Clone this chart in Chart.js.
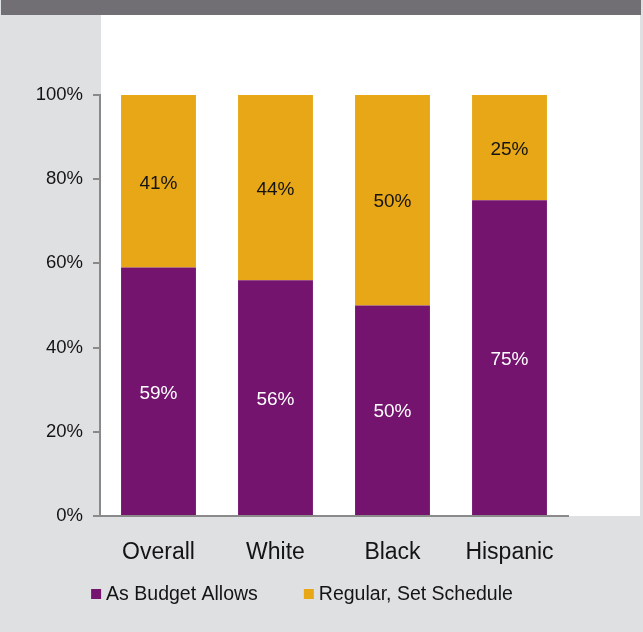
<!DOCTYPE html>
<html>
<head>
<meta charset="utf-8">
<script src="https://cdn.jsdelivr.net/npm/chart.js@4"></script>
<style>
	body { margin: 0; background: #dfe0e2; }
	#wrap { position: relative; width: 643px; height: 632px; overflow: hidden; background: #dfe0e2; }
	.topbar { position: absolute; left: 1px; top: 0; width: 640px; height: 15px; background: #716f74; }
	.panel { position: absolute; left: 101px; top: 15px; width: 539px; height: 501px; background: #ffffff; }
	#chart { position: absolute; left: 0; top: 0; }
</style>
</head>
<body>
<div id="wrap">
	<div class="topbar"></div>
	<div class="panel"></div>
	<canvas id="chart" width="643" height="632"></canvas>
</div>
<script>
const categories = ['Overall', 'White', 'Black', 'Hispanic'];
const budgetAllows = [59, 56, 50, 75];
const setSchedule = [41, 44, 50, 25];
const yTicks = [0, 20, 40, 60, 80, 100];

const FONT = "'Liberation Sans', Arial, sans-serif";
const PURPLE = '#74146f';
const GOLD = '#e7a716';
const INK = '#141414';

// writes the percentage inside every bar segment
const segmentLabels = {
	id: 'segmentLabels',
	afterDatasetsDraw(chart) {
		let ctx = chart.ctx;
		ctx.save();
		ctx.font = '19px ' + FONT;
		ctx.textAlign = 'center';
		ctx.textBaseline = 'middle';
		chart.data.datasets.forEach((ds, i) => {
			let meta = chart.getDatasetMeta(i);
			meta.data.forEach((bar, j) => {
				let mid = (bar.y + bar.base) / 2 + 2;
				ctx.fillStyle = ds.labelColor;
				ctx.fillText(ds.data[j] + '%', bar.x, mid);
			});
		});
		ctx.restore();
	}
};

// one-row legend under the axis: small square, tight gap, wide spacing between entries
const bottomLegend = {
	id: 'bottomLegend',
	afterDraw(chart, args, opts) {
		let ctx = chart.ctx;
		ctx.save();
		ctx.font = opts.fontSize + 'px ' + FONT;
		ctx.textBaseline = 'middle';
		let items = chart.data.datasets.map(ds => ({
			text: ds.label,
			color: ds.backgroundColor,
			w: opts.box + opts.boxGap + ctx.measureText(ds.label).width
		}));
		let total = items.reduce((a, it) => a + it.w, 0) + opts.itemGap * (items.length - 1);
		let x = opts.centerX - total / 2;
		items.forEach(it => {
			ctx.fillStyle = it.color;
			ctx.fillRect(x, opts.y - opts.box / 2, opts.box, opts.box);
			ctx.fillStyle = INK;
			ctx.fillText(it.text, x + opts.box + opts.boxGap, opts.y + 1);
			x += it.w + opts.itemGap;
		});
		ctx.restore();
	}
};

let ctx = document.getElementById('chart').getContext('2d');
let myChart = new Chart(ctx, {
	type: 'bar',
	data: {
		labels: categories,
		datasets: [{
			label: 'As Budget Allows',
			data: budgetAllows,
			backgroundColor: PURPLE,
			borderWidth: 0,
			labelColor: '#ffffff'
		}, {
			label: 'Regular, Set Schedule',
			data: setSchedule,
			backgroundColor: GOLD,
			borderWidth: 0,
			labelColor: INK
		}]
	},
	options: {
		responsive: false,
		animation: false,
		devicePixelRatio: 1,
		layout: {
			padding: { top: 95, left: 36, right: 75, bottom: 58 }
		},
		datasets: {
			bar: { barPercentage: 0.64, categoryPercentage: 1 }
		},
		scales: {
			x: {
				stacked: true,
				grid: { display: false, drawTicks: false },
				border: { display: true, color: '#8a8a8a', width: 2 },
				ticks: {
					padding: 23,
					color: INK,
					font: { family: FONT, size: 23 }
				},
				afterFit: function(scale) { scale.height = 58; }
			},
			y: {
				stacked: true,
				min: 0,
				max: 100,
				afterBuildTicks: function(scale) {
					scale.ticks = yTicks.map(v => ({ value: v }));
				},
				grid: {
					drawOnChartArea: false,
					drawTicks: true,
					tickLength: 7,
					color: '#8a8a8a',
					lineWidth: 2
				},
				border: { display: true, color: '#8a8a8a', width: 2 },
				ticks: {
					padding: 10,
					color: INK,
					font: { family: FONT, size: 18.5 },
					callback: function(v) { return v + '%'; }
				},
				afterFit: function(scale) { scale.width = 64; }
			}
		},
		plugins: {
			legend: { display: false },
			tooltip: { enabled: false },
			bottomLegend: {
				centerX: 302,
				y: 594,
				box: 10,
				boxGap: 5,
				itemGap: 46,
				fontSize: 19.5
			}
		}
	},
	plugins: [segmentLabels, bottomLegend]
});
</script>
</body>
</html>
